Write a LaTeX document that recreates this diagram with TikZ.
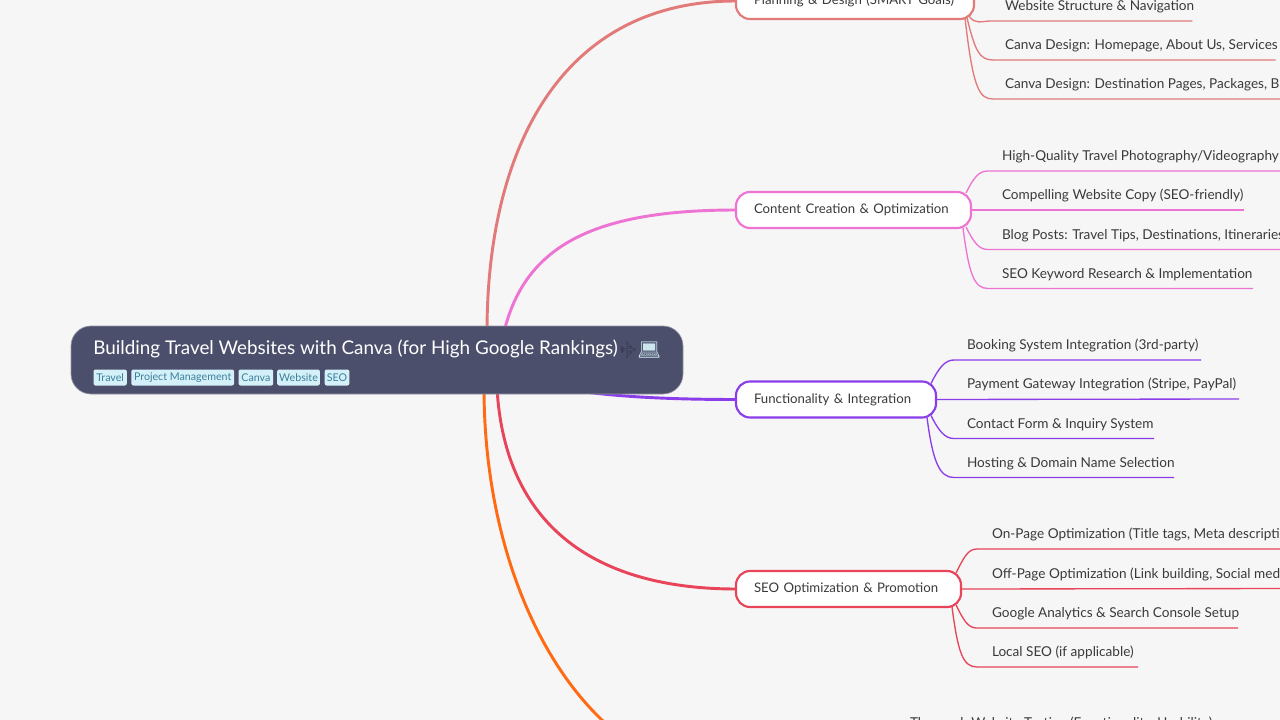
\documentclass[tikz,border=0pt]{standalone}
\usepackage{fontspec}
\setmainfont{Lato}
\newfontfamily\emojifont{Noto Emoji}
\usetikzlibrary{positioning,calc}
\definecolor{paper}{HTML}{F6F6F6}
\definecolor{rootfill}{HTML}{4C4F6B}
\definecolor{tagfill}{HTML}{D4F1F9}
\definecolor{tagtext}{HTML}{3D7F9A}
\definecolor{inktext}{HTML}{3A3A3A}
\definecolor{planc}{HTML}{E27A7A}
\definecolor{contentc}{HTML}{EE74D4}
\definecolor{funcc}{HTML}{8B3DEA}
\definecolor{seoc}{HTML}{E8445A}
\definecolor{testc}{HTML}{FF6A13}
\pgfdeclarelayer{paperlayer}
\pgfdeclarelayer{links}
\pgfsetlayers{paperlayer,links,main}
\tikzset{
  root/.style={draw=rootfill!60!white,line width=0.5pt,fill=rootfill,rounded corners=15pt,minimum width=459pt,minimum height=51pt,inner sep=0pt,outer sep=0pt},
  tag/.style={fill=tagfill,rounded corners=1.5pt,text=tagtext,font=\fontsize{8}{10}\selectfont,minimum height=12pt,inner xsep=0pt,inner ysep=0pt,outer sep=0pt},
  topic/.style={draw,fill=white,line width=1.6pt,rounded corners=10.5pt,minimum height=27pt,anchor=west,inner xsep=13.5pt,inner ysep=0pt,outer sep=0pt,text=inktext,font=\fontsize{9.9}{12}\selectfont},
  subtext/.style={anchor=south west,inner xsep=0pt,inner ysep=3.7pt,outer sep=0pt,text height=8pt,text depth=4pt,text=inktext,font=\fontsize{10.2}{12}\selectfont},
  trunk/.style={line width=2.2pt},
  twig/.style={line width=1pt}
}
\begin{document}
\begin{tikzpicture}[x=0.75pt,y=-0.75pt]
  \useasboundingbox (0,0) rectangle (1280,720);
  \clip (0,0) rectangle (1280,720);
  \begin{pgfonlayer}{paperlayer}
    \fill[paper] (0,0) rectangle (1280,720);
  \end{pgfonlayer}

  % root and its tags
  \node [root] (root) at (377,360) {};
  \node [anchor=west,inner sep=0pt,text=white,font=\fontsize{14.15}{18}\selectfont] (title) at (93,349) {Building Travel Websites with Canva (for High Google Rankings)};
  \node [inner sep=0pt,rotate=-45,text=rootfill!70!black,font=\emojifont\fontsize{9.5}{12}\selectfont] (plane) at (627,350) {✈};
  \node [anchor=west,inner sep=0pt,text=tagfill!90!gray,font=\emojifont\fontsize{14}{18}\selectfont] (laptop) at (637,350) {💻};
  \node [tag,anchor=west,minimum width=25pt] (tagtravel) at (93.5,377.5) {\raisebox{-0.8pt}{Travel}};
  \node [tag,minimum width=77pt,right=3.4pt of tagtravel] (tagpm) {\raisebox{-0.8pt}{Project Management}};
  \node [tag,minimum width=26pt,right=3.4pt of tagpm] (tagcanva) {\raisebox{-0.8pt}{Canva}};
  \node [tag,minimum width=32pt,right=3pt of tagcanva] (tagweb) {\raisebox{-0.8pt}{Website}};
  \node [tag,minimum width=18.5pt,right=3.6pt of tagweb] (tagseo) {\raisebox{-0.8pt}{SEO}};

  % main topics
  \node [topic,draw=planc,text width=151.5pt] (plan) at (736,1) {\mbox{Planning \& Design (SMART Goals)}};
  \node [topic,draw=contentc,text width=149.25pt] (content) at (736,210) {\mbox{Content Creation \& Optimization}};
  \node [topic,draw=funcc,text width=123pt] (func) at (736,399.5) {\mbox{Functionality \& Integration}};
  \node [topic,draw=seoc,text width=141.75pt] (seo) at (736,589) {\mbox{SEO Optimization \& Promotion}};
  \coordinate (testing) at (736,778);

  % sub topics
  \foreach \nm/\yy/\ww/\txt in {plana/21/140.5/{Website Structure \& Navigation},planb/60/203/{Canva Design: Homepage, About Us, Services},planc/99/225/{Canva Design: Destination Pages, Packages, Blog}}
    \node [subtext] (\nm) at (1005,\yy) {\makebox[\ww pt][l]{\txt}};
  \foreach \nm/\yy/\ww/\txt in {conta/171/225/{High-Quality Travel Photography/Videography},contb/210/181.5/{Compelling Website Copy (SEO-friendly)},contc/249.5/225/{Blog Posts: Travel Tips, Destinations, Itineraries},contd/288.5/188.25/{SEO Keyword Research \& Implementation}}
    \node [subtext] (\nm) at (1002,\yy) {\makebox[\ww pt][l]{\txt}};
  \foreach \nm/\yy/\ww/\txt in {funca/360/175.5/{Booking System Integration (3rd-party)},funcb/399/204/{Payment Gateway Integration (Stripe, PayPal)},funcc/438.5/140.25/{Contact Form \& Inquiry System},funcd/477.5/155.25/{Hosting \& Domain Name Selection}}
    \node [subtext] (\nm) at (967,\yy) {\makebox[\ww pt][l]{\txt}};
  \foreach \nm/\yy/\ww/\txt in {seoa/549/225/{On-Page Optimization (Title tags, Meta descriptions)},seob/588.5/225/{Off-Page Optimization (Link building, Social media)},seoc/628/184.5/{Google Analytics \& Search Console Setup},seod/667/109.5/{Local SEO (if applicable)}}
    \node [subtext] (\nm) at (992,\yy) {\makebox[\ww pt][l]{\txt}};
  \node [subtext] (testa) at (910,738) {Thorough Website Testing (Functionality, Usability)};

  \begin{pgfonlayer}{links}
    % root to topics
    \draw [trunk,planc] ($(root.north)+(110,6)$) .. controls (487,150) and (560,1) .. (plan.west);
    \draw [trunk,contentc] ($(root.north)+(127,6)$) .. controls (525,245) and (595,210) .. (content.west);
    \draw [trunk,funcc] ($(root.south)+(130,-20)$) .. controls (560,395) and (650,399.5) .. (func.west);
    \draw [trunk,seoc] ($(root.south)+(120,-6)$) .. controls (505,530) and (600,589) .. (seo.west);
    \draw [trunk,testc] ($(root.south)+(107,-6)$) .. controls (484,602) and (592,778) .. (testing);

    % planning twigs
    \draw [twig,planc] ($(plan.south east)+(-5,-3)$) .. controls +(6,9) and +(-9,0) .. ($(plana.south west)+(-14,0)$) -- (plana.south east);
    \draw [twig,planc] ($(plan.south east)+(-7,-1)$) .. controls +(8,32) and +(-14,0) .. ($(planb.south west)+(-12,0)$) -- (planb.south east);
    \draw [twig,planc] ($(plan.south east)+(-9,-1)$) .. controls +(8,70) and +(-14,0) .. ($(planc.south west)+(-12,0)$) -- (planc.south east);
    % content twigs
    \draw [twig,contentc] ($(content.north east)+(-5,1)$) .. controls +(8,-16) and +(-9,0) .. ($(conta.south west)+(-14,0)$) -- (conta.south east);
    \draw [twig,contentc] (content.east) -- (contb.south east);
    \draw [twig,contentc] ($(content.south east)+(-5,-1)$) .. controls +(8,16) and +(-9,0) .. ($(contc.south west)+(-14,0)$) -- (contc.south east);
    \draw [twig,contentc] ($(content.south east)+(-8,0)$) .. controls +(6,46) and +(-14,0) .. ($(contd.south west)+(-14,0)$) -- (contd.south east);
    % functionality twigs
    \draw [twig,funcc] ($(func.north east)+(-5,2)$) .. controls +(8,-16) and +(-9,0) .. ($(funca.south west)+(-13,0)$) -- (funca.south east);
    \draw [twig,funcc] (func.east) -- (funcb.south east);
    \draw [twig,funcc] ($(func.south east)+(-5,-2)$) .. controls +(8,16) and +(-9,0) .. ($(funcc.south west)+(-13,0)$) -- (funcc.south east);
    \draw [twig,funcc] ($(func.south east)+(-9,0)$) .. controls +(6,46) and +(-14,0) .. ($(funcd.south west)+(-13,0)$) -- (funcd.south east);
    % seo twigs
    \draw [twig,seoc] ($(seo.north east)+(-5,2)$) .. controls +(8,-16) and +(-9,0) .. ($(seoa.south west)+(-15,0)$) -- (seoa.south east);
    \draw [twig,seoc] (seo.east) -- (seob.south east);
    \draw [twig,seoc] ($(seo.south east)+(-5,-2)$) .. controls +(8,16) and +(-9,0) .. ($(seoc.south west)+(-15,0)$) -- (seoc.south east);
    \draw [twig,seoc] ($(seo.south east)+(-9,0)$) .. controls +(6,46) and +(-14,0) .. ($(seod.south west)+(-15,0)$) -- (seod.south east);
  \end{pgfonlayer}
\end{tikzpicture}
\end{document}
